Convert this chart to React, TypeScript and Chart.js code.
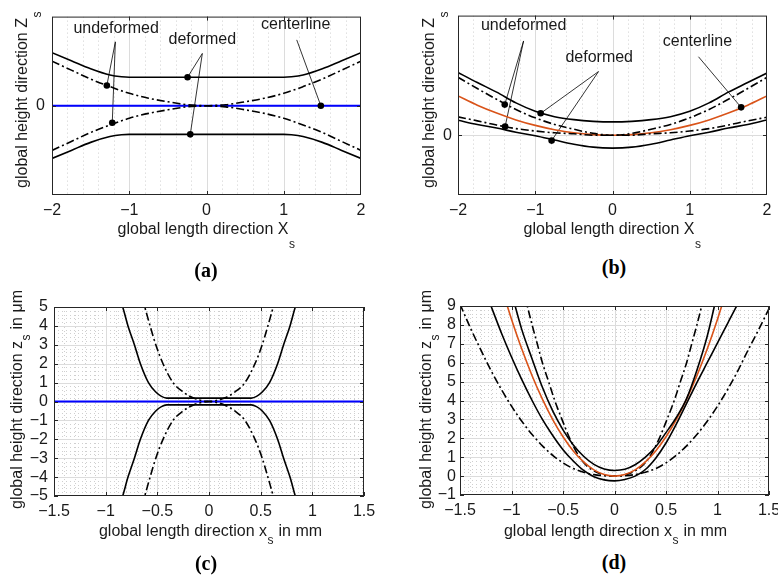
import React, { useEffect, useRef } from 'react';
import { Chart, registerables } from 'chart.js';

Chart.register(...registerables);

const FONT = '"Liberation Sans", Arial, Helvetica, sans-serif';
const INK = '#1a1a1a';

// ---------------- Panel (a): schematic, straight centreline ----------------
const aDefX = [-2, -1.75, -1.5, -1.25, -1.1, -1, 0, 1, 1.1, 1.25, 1.5, 1.75, 2];
const aDefUpper = [0.595, 0.505, 0.415, 0.345, 0.325, 0.32, 0.32, 0.32, 0.325, 0.345, 0.415, 0.505, 0.595];
const aDefLower = [-0.59, -0.5, -0.41, -0.345, -0.325, -0.32, -0.32, -0.32, -0.325, -0.345, -0.41, -0.5, -0.59];
const aUndefX = [-2, -1.75, -1.5, -1.25, -1, -0.75, -0.5, -0.25, 0, 0.25, 0.5, 0.75, 1, 1.25, 1.5, 1.75, 2];
const aUndefA = [0.5, 0.4, 0.3, 0.215, 0.14, 0.085, 0.045, 0.012, 0, -0.012, -0.045, -0.085, -0.14, -0.215, -0.3, -0.4, -0.5];
const aUndefB = [-0.5, -0.4, -0.3, -0.215, -0.14, -0.085, -0.045, -0.012, 0, 0.012, 0.045, 0.085, 0.14, 0.215, 0.3, 0.4, 0.5];
const aCenterX = [-2, 2];
const aCenterY = [0, 0];
const aMarkX = [-1.29, -1.22, -0.245, -0.21, 1.48];
const aMarkY = [0.228, -0.19, 0.32, -0.32, 0];
const aLeadX = [-1.18, -1.18, -0.054, -0.054, 1.168];
const aLeadY = [0.717, 0.717, 0.587, 0.587, 0.739];
const aLabels = ['undeformed', 'deformed', 'centerline'];
const aLabelX = [-1.17, -0.054, 1.155];
const aLabelY = [0.87, 0.746, 0.905];

// ---------------- Panel (b): schematic, curved centreline ----------------
const bX = [-2, -1.75, -1.5, -1.25, -1, -0.75, -0.5, -0.25, 0, 0.25, 0.5, 0.75, 1, 1.25, 1.5, 1.75, 2];
const bCenter = [0.328, 0.251, 0.185, 0.128, 0.082, 0.046, 0.02, 0.005, 0, 0.005, 0.02, 0.046, 0.082, 0.128, 0.185, 0.251, 0.328];
const bDefUpper = [0.524, 0.44, 0.36, 0.27, 0.2, 0.155, 0.13, 0.116, 0.111, 0.116, 0.13, 0.155, 0.2, 0.27, 0.36, 0.44, 0.52];
const bDefLower = [0.125, 0.09, 0.06, 0.025, -0.005, -0.04, -0.075, -0.1, -0.108, -0.1, -0.075, -0.04, -0.005, 0.025, 0.06, 0.09, 0.127];
const bUndefA = [0.484, 0.39, 0.3, 0.215, 0.145, 0.09, 0.05, 0.015, 0, 0, 0.012, 0.02, 0.035, 0.055, 0.085, 0.12, 0.15];
const bUndefB = [0.153, 0.12, 0.085, 0.055, 0.035, 0.02, 0.012, 0, 0, 0.015, 0.05, 0.09, 0.145, 0.215, 0.3, 0.39, 0.484];
const bMarkX = [-1.395, -1.39, -0.93, -0.788, 1.665];
const bMarkY = [0.256, 0.072, 0.183, -0.045, 0.233];
const bLeadX = [-1.151, -1.151, -0.181, -0.181, 1.113];
const bLeadY = [0.788, 0.788, 0.532, 0.532, 0.656];
const bLabels = ['undeformed', 'deformed', 'centerline'];
const bLabelX = [-1.15, -0.172, 1.1];
const bLabelY = [0.915, 0.65, 0.783];

// ---------------- Panel (c): straight centreline, mm / µm ----------------
const cDefX = [-0.86, -0.835, -0.784, -0.722, -0.664, -0.586, -0.515, -0.46, -0.41, 0.41, 0.46, 0.515, 0.586, 0.664, 0.722, 0.784, 0.835, 0.86];
const cDefUpper = [5.4, 5, 4, 3, 2, 1, 0.5, 0.27, 0.18, 0.18, 0.27, 0.5, 1, 2, 3, 4, 5, 5.4];
const cDefLower = [-5.4, -5, -4, -3, -2, -1, -0.5, -0.27, -0.18, -0.18, -0.27, -0.5, -1, -2, -3, -4, -5, -5.4];
const cUndefX = [-0.65, -0.622, -0.57, -0.515, -0.445, -0.348, -0.25, -0.15, -0.05, 0, 0.05, 0.15, 0.25, 0.348, 0.445, 0.515, 0.57, 0.622, 0.65];
const cUndefA = [5.5, 5, 4, 3, 2, 1, 0.5, 0.18, 0.03, 0, -0.03, -0.18, -0.5, -1, -2, -3, -4, -5, -5.5];
const cUndefB = [-5.5, -5, -4, -3, -2, -1, -0.5, -0.18, -0.03, 0, 0.03, 0.18, 0.5, 1, 2, 3, 4, 5, 5.5];
const cCenterX = [-1.5, 1.5];
const cCenterY = [0, 0];

// ---------------- Panel (d): curved centreline, mm / µm ----------------
const dCenterX = [-1.06, -1, -0.9, -0.8, -0.7, -0.6, -0.5, -0.4, -0.3, -0.2, -0.1, 0, 0.1, 0.2, 0.3, 0.4, 0.5, 0.6, 0.7, 0.8, 0.9, 1, 1.06];
const dCenterY = [9.33, 8.3, 6.72, 5.31, 4.07, 2.99, 2.08, 1.33, 0.75, 0.33, 0.08, 0, 0.08, 0.33, 0.75, 1.33, 2.08, 2.99, 4.07, 5.31, 6.72, 8.3, 9.33];
const dUpperX = [-0.99, -0.9, -0.8, -0.7, -0.6, -0.5, -0.4, -0.3, -0.2, -0.1, 0, 0.1, 0.2, 0.3, 0.4, 0.5, 0.6, 0.7, 0.8, 0.9, 0.97, 1];
const dUpperY = [9.5, 7.75, 6.2, 4.7, 3.45, 2.45, 1.65, 1.05, 0.62, 0.38, 0.3, 0.36, 0.6, 1, 1.55, 2.3, 3.1, 4.1, 5.6, 7.4, 9, 9.75];
const dLowerX = [-1.22, -1.1, -1, -0.9, -0.8, -0.7, -0.6, -0.5, -0.4, -0.3, -0.2, -0.1, 0, 0.1, 0.2, 0.3, 0.4, 0.5, 0.6, 0.7, 0.8, 0.9, 1, 1.1, 1.2, 1.25];
const dLowerY = [9.3, 7.6, 6.3, 5.1, 4, 3, 2.15, 1.4, 0.8, 0.3, -0.03, -0.2, -0.25, -0.18, 0, 0.35, 0.95, 1.75, 2.75, 3.85, 4.95, 6, 7.05, 8.1, 9.15, 9.7];
const dUndefAX = [-0.87, -0.846, -0.8, -0.75, -0.7, -0.64, -0.58, -0.51, -0.435, -0.34, -0.26, -0.15, -0.07, 0, 0.1, 0.2, 0.3, 0.4, 0.5, 0.6, 0.7, 0.8, 0.9, 1, 1.1, 1.2, 1.3, 1.4, 1.5];
const dUndefA = [9.6, 9, 8, 7, 6, 5, 4, 3, 2, 1, 0.5, 0.15, 0.03, 0, 0.02, 0.08, 0.2, 0.4, 0.7, 1.1, 1.6, 2.2, 2.9, 3.7, 4.6, 5.6, 6.7, 7.75, 8.86];
const dUndefBX = [-1.5, -1.4, -1.3, -1.2, -1.1, -1, -0.9, -0.8, -0.7, -0.6, -0.5, -0.4, -0.3, -0.2, -0.1, 0, 0.07, 0.15, 0.26, 0.34, 0.435, 0.51, 0.58, 0.64, 0.7, 0.75, 0.8, 0.846, 0.87];
const dUndefB = [9.1, 7.85, 6.7, 5.6, 4.6, 3.7, 2.9, 2.2, 1.6, 1.1, 0.7, 0.4, 0.2, 0.08, 0.02, 0, 0.03, 0.15, 0.5, 1, 2, 3, 4, 5, 6, 7, 8, 9, 9.6];

// ---------------- helpers ----------------
const pts = (xs: number[], ys: number[]) => xs.map((x, i) => ({ x, y: ys[i] }));
const solid = (xs: number[], ys: number[], color = '#000', width = 1.6) => ({
  data: pts(xs, ys),
  borderColor: color,
  borderWidth: width,
  showLine: true,
  pointRadius: 0,
  cubicInterpolationMode: 'monotone',
  fill: false,
});
const dashDot = (xs: number[], ys: number[]) => ({ ...solid(xs, ys), borderDash: [8, 3, 2, 3] });
const markers = (xs: number[], ys: number[]) => ({
  data: pts(xs, ys),
  showLine: false,
  pointRadius: 3.3,
  pointBackgroundColor: '#000',
  pointBorderColor: '#000',
  pointBorderWidth: 0,
});

const fmt = (v: number) => {
  const r = Math.round(v * 100) / 100;
  if (r === 0) return '0';
  return (r < 0 ? '\u2212' : '') + String(Math.abs(r));
};

function drawSub(ctx: CanvasRenderingContext2D, parts: string[], cx: number, cy: number, rotate: boolean, drop: number) {
  const [main, sub, rest] = parts;
  const big = `16px ${FONT}`;
  const small = `12px ${FONT}`;
  ctx.font = big;
  const w1 = ctx.measureText(main).width;
  const w3 = rest ? ctx.measureText(rest).width : 0;
  ctx.font = small;
  const w2 = ctx.measureText(sub).width;
  const total = w1 + w2 + w3;
  ctx.save();
  ctx.translate(cx, cy);
  if (rotate) ctx.rotate(-Math.PI / 2);
  ctx.fillStyle = INK;
  ctx.textAlign = 'left';
  ctx.textBaseline = 'alphabetic';
  let u = -total / 2;
  ctx.font = big;
  ctx.fillText(main, u, 0);
  u += w1;
  ctx.font = small;
  ctx.fillText(sub, u + 0.5, drop);
  u += w2 + 1;
  if (rest) {
    ctx.font = big;
    ctx.fillText(rest, u, 0);
  }
  ctx.restore();
}

const steps = (min: number, max: number, step: number) => {
  const out: number[] = [];
  const n = Math.round((max - min) / step);
  for (let i = 0; i <= n; i++) out.push(min + i * step);
  return out;
};

const matlabPlugin = {
  id: 'matlab',
  beforeDatasetsDraw(chart: any, _a: any, o: any) {
    const { ctx, chartArea: a } = chart;
    const xs = chart.scales.x;
    const ys = chart.scales.y;
    ctx.save();
    ctx.beginPath();
    ctx.rect(a.left, a.top, a.right - a.left, a.bottom - a.top);
    ctx.clip();
    const vline = (v: number) => {
      const p = Math.round(xs.getPixelForValue(v)) + 0.5;
      ctx.beginPath();
      ctx.moveTo(p, a.top);
      ctx.lineTo(p, a.bottom);
      ctx.stroke();
    };
    const hline = (v: number) => {
      const p = Math.round(ys.getPixelForValue(v)) + 0.5;
      ctx.beginPath();
      ctx.moveTo(a.left, p);
      ctx.lineTo(a.right, p);
      ctx.stroke();
    };
    ctx.lineWidth = 1;
    ctx.strokeStyle = '#cfcfcf';
    ctx.setLineDash([1, 3]);
    if (o.xMinor) steps(xs.min, xs.max, o.xMinor).forEach(vline);
    if (o.yMinor) steps(ys.min, ys.max, o.yMinor).forEach(hline);
    ctx.setLineDash([]);
    ctx.strokeStyle = '#dcdcdc';
    o.xMajor.forEach(vline);
    o.yMajor.forEach(hline);
    // leader lines
    if (o.leaders) {
      const L = o.leaders;
      ctx.strokeStyle = '#000';
      ctx.lineWidth = 0.8;
      L.x0.forEach((_: number, i: number) => {
        ctx.beginPath();
        ctx.moveTo(xs.getPixelForValue(L.x0[i]), ys.getPixelForValue(L.y0[i]));
        ctx.lineTo(xs.getPixelForValue(L.x1[i]), ys.getPixelForValue(L.y1[i]));
        ctx.stroke();
      });
    }
    ctx.restore();
  },
  afterDatasetsDraw(chart: any, _a: any, o: any) {
    const { ctx, chartArea: a } = chart;
    const xs = chart.scales.x;
    const ys = chart.scales.y;
    ctx.save();
    ctx.strokeStyle = '#262626';
    ctx.lineWidth = 1;
    ctx.strokeRect(a.left + 0.5, a.top + 0.5, a.right - a.left - 1, a.bottom - a.top - 1);
    const tl = 4;
    o.xMajor.forEach((v: number) => {
      const p = Math.round(xs.getPixelForValue(v)) + 0.5;
      ctx.beginPath();
      ctx.moveTo(p, a.bottom);
      ctx.lineTo(p, a.bottom - tl);
      ctx.moveTo(p, a.top);
      ctx.lineTo(p, a.top + tl);
      ctx.stroke();
    });
    o.yMajor.forEach((v: number) => {
      const p = Math.round(ys.getPixelForValue(v)) + 0.5;
      ctx.beginPath();
      ctx.moveTo(a.left, p);
      ctx.lineTo(a.left + tl, p);
      ctx.moveTo(a.right, p);
      ctx.lineTo(a.right - tl, p);
      ctx.stroke();
    });
    ctx.restore();
  },
  afterDraw(chart: any, _a: any, o: any) {
    const { ctx } = chart;
    const xs = chart.scales.x;
    const ys = chart.scales.y;
    if (o.labels) {
      ctx.save();
      ctx.font = `16px ${FONT}`;
      ctx.fillStyle = INK;
      ctx.textAlign = 'center';
      ctx.textBaseline = 'middle';
      o.labels.text.forEach((t: string, i: number) => {
        ctx.fillText(t, xs.getPixelForValue(o.labels.x[i]), ys.getPixelForValue(o.labels.y[i]));
      });
      ctx.restore();
    }
    drawSub(ctx, o.xTitle, o.xTitlePos[0], o.xTitlePos[1], false, o.subDrop);
    drawSub(ctx, o.yTitle, o.yTitlePos[0], o.yTitlePos[1], true, o.subDrop);
  },
};

type Spec = {
  left: number; top: number; w: number; h: number;
  area: { left: number; top: number; right: number; bottom: number };
  xRange: number[]; yRange: number[]; xStep: number; yStep: number; yOnlyZero: boolean;
  yPad: number;
  datasets: any[];
  plugin: any;
};

function buildConfig(s: Spec): any {
  const tickFont = { family: FONT, size: 16 };
  return {
    type: 'scatter',
    data: { datasets: s.datasets },
    plugins: [matlabPlugin],
    options: {
      animation: false,
      responsive: false,
      maintainAspectRatio: false,
      devicePixelRatio: 1,
      events: [],
      layout: { padding: { left: 0, top: s.area.top, right: s.w - s.area.right, bottom: 0 } },
      plugins: { legend: { display: false }, tooltip: { enabled: false }, matlab: s.plugin },
      scales: {
        x: {
          type: 'linear',
          min: s.xRange[0],
          max: s.xRange[1],
          grid: { display: false, drawTicks: false },
          border: { display: false },
          ticks: { stepSize: s.xStep, callback: fmt, padding: 6, font: tickFont, color: INK, maxRotation: 0, autoSkip: false },
          afterFit: (sc: any) => { sc.height = s.h - s.area.bottom; },
        },
        y: {
          type: 'linear',
          min: s.yRange[0],
          max: s.yRange[1],
          grid: { display: false, drawTicks: false },
          border: { display: false },
          ticks: { stepSize: s.yStep, callback: fmt, padding: s.yPad, font: tickFont, color: INK, autoSkip: false },
          afterBuildTicks: s.yOnlyZero ? (sc: any) => { sc.ticks = [{ value: 0 }]; } : undefined,
          afterFit: (sc: any) => { sc.width = s.area.left; },
        },
      },
    },
  };
}

const specA: Spec = {
  left: 0, top: 0, w: 389, h: 255,
  area: { left: 52, top: 6, right: 361, bottom: 195 },
  xRange: [-2, 2], yRange: [-1, 1], xStep: 1, yStep: 1, yOnlyZero: true, yPad: 7,
  datasets: [
    markers(aMarkX, aMarkY),
    solid(aDefX, aDefUpper),
    solid(aDefX, aDefLower),
    dashDot(aUndefX, aUndefA),
    dashDot(aUndefX, aUndefB),
    solid(aCenterX, aCenterY, '#0000ff', 2),
  ],
  plugin: {
    xMinor: 0.2, yMinor: 0, xMajor: [-1, 0, 1], yMajor: [0],
    leaders: { x0: aLeadX, y0: aLeadY, x1: aMarkX, y1: aMarkY },
    labels: { text: aLabels, x: aLabelX, y: aLabelY },
    xTitle: ['global length direction X', 's', ''], xTitlePos: [206, 233.5],
    yTitle: ['global height direction Z', 's', ''], yTitlePos: [27, 100],
    subDrop: 14,
  },
};

const specB: Spec = {
  left: 389, top: 0, w: 389, h: 255,
  area: { left: 69, top: 6, right: 378, bottom: 195 },
  xRange: [-2, 2], yRange: [-0.5, 1], xStep: 1, yStep: 0.5, yOnlyZero: true, yPad: 6,
  datasets: [
    markers(bMarkX, bMarkY),
    solid(bX, bDefUpper),
    solid(bX, bDefLower),
    dashDot(bX, bUndefA),
    dashDot(bX, bUndefB),
    solid(bX, bCenter, '#d95319', 1.6),
  ],
  plugin: {
    xMinor: 0.2, yMinor: 0, xMajor: [-1, 0, 1], yMajor: [0],
    leaders: { x0: bLeadX, y0: bLeadY, x1: bMarkX, y1: bMarkY },
    labels: { text: bLabels, x: bLabelX, y: bLabelY },
    xTitle: ['global length direction X', 's', ''], xTitlePos: [223, 233.5],
    yTitle: ['global height direction Z', 's', ''], yTitlePos: [45, 100],
    subDrop: 14,
  },
};

const specC: Spec = {
  left: 0, top: 280, w: 389, h: 265,
  area: { left: 54, top: 27, right: 364, bottom: 216 },
  xRange: [-1.5, 1.5], yRange: [-5, 5], xStep: 0.5, yStep: 1, yOnlyZero: false, yPad: 6,
  datasets: [
    solid(cDefX, cDefUpper),
    solid(cDefX, cDefLower),
    dashDot(cUndefX, cUndefA),
    dashDot(cUndefX, cUndefB),
    solid(cCenterX, cCenterY, '#0000ff', 2),
  ],
  plugin: {
    xMinor: 0.1, yMinor: 0.2, xMajor: steps(-1.5, 1.5, 0.5), yMajor: steps(-5, 5, 1),
    xTitle: ['global length direction x', 's', ' in mm'], xTitlePos: [210, 256],
    yTitle: ['global height direction z', 's', ' in \u03bcm'], yTitlePos: [22, 120],
    subDrop: 8,
  },
};

const specD: Spec = {
  left: 389, top: 280, w: 411, h: 265,
  area: { left: 71, top: 26, right: 380, bottom: 215 },
  xRange: [-1.5, 1.5], yRange: [-1, 9], xStep: 0.5, yStep: 1, yOnlyZero: false, yPad: 4,
  datasets: [
    solid(dUpperX, dUpperY),
    solid(dLowerX, dLowerY),
    solid(dCenterX, dCenterY, '#d95319', 1.6),
    dashDot(dUndefAX, dUndefA),
    dashDot(dUndefBX, dUndefB),
  ],
  plugin: {
    xMinor: 0.1, yMinor: 0.2, xMajor: steps(-1.5, 1.5, 0.5), yMajor: steps(-1, 9, 1),
    xTitle: ['global length direction x', 's', ' in mm'], xTitlePos: [226, 256],
    yTitle: ['global height direction z', 's', ' in \u03bcm'], yTitlePos: [42, 120],
    subDrop: 8,
  },
};

function Panel({ spec }: { spec: Spec }) {
  const ref = useRef<HTMLCanvasElement>(null);
  useEffect(() => {
    const chart = new Chart(ref.current as HTMLCanvasElement, buildConfig(spec));
    return () => chart.destroy();
  }, [spec]);
  return (
    <canvas
      ref={ref}
      width={spec.w}
      height={spec.h}
      style={{ position: 'absolute', left: spec.left, top: spec.top, width: spec.w, height: spec.h }}
    />
  );
}

const panelLabels = ['(a)', '(b)', '(c)', '(d)'];
const panelLabelX = [206, 614, 206, 614];
const panelLabelY = [270, 267, 563, 562];

export default function App() {
  return (
    <div style={{ position: 'fixed', left: 0, top: 0, width: 778, height: 577, overflow: 'hidden', background: '#fff' }}>
      <Panel spec={specA} />
      <Panel spec={specB} />
      <Panel spec={specC} />
      <Panel spec={specD} />
      {panelLabels.map((t, i) => (
        <div
          key={t}
          style={{
            position: 'absolute',
            left: panelLabelX[i],
            top: panelLabelY[i],
            transform: 'translate(-50%, -50%)',
            font: 'bold 20px "Liberation Serif", "Times New Roman", serif',
            color: '#000',
            whiteSpace: 'nowrap',
          }}
        >
          {t}
        </div>
      ))}
    </div>
  );
}
